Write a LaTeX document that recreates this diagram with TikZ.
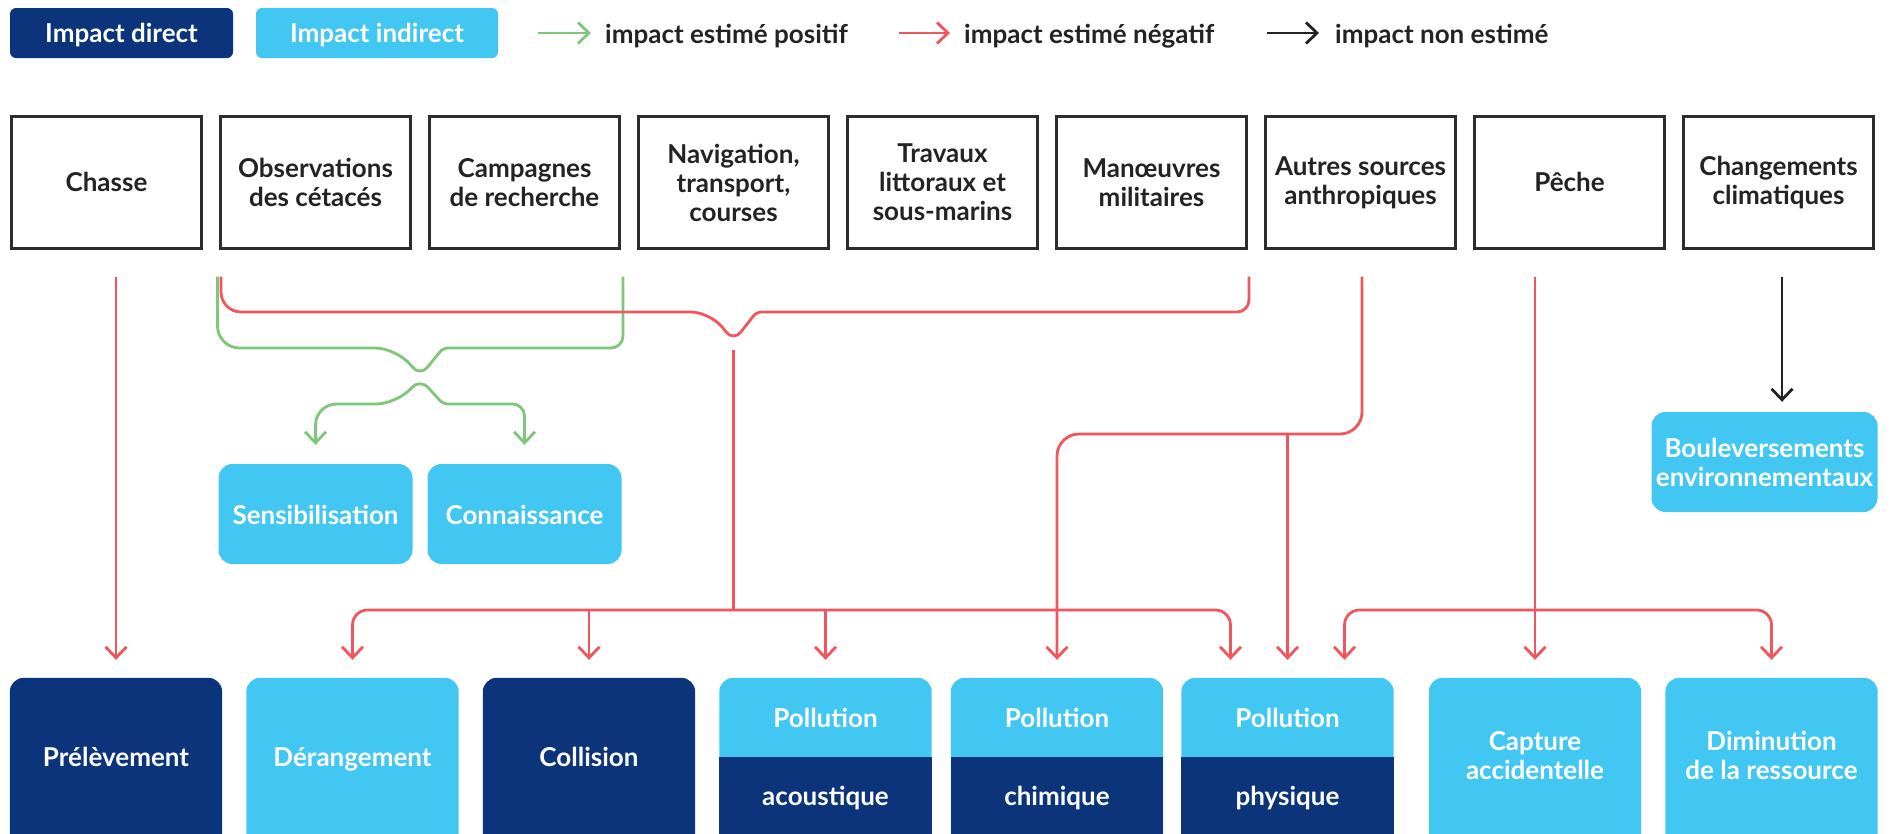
\documentclass[tikz,border=0pt]{standalone}
\usepackage{fontspec}
\setmainfont{Lato}
\usetikzlibrary{arrows.meta,backgrounds,calc}

\definecolor{navy}{RGB}{11,52,122}
\definecolor{skyb}{RGB}{66,199,243}
\definecolor{negred}{RGB}{240,86,92}
\definecolor{posgreen}{RGB}{125,198,122}
\definecolor{framegray}{RGB}{45,45,45}
\definecolor{inkgray}{RGB}{35,35,35}

\begin{document}
\begin{tikzpicture}[x=1pt,y=-1pt,
  lbl/.style={font=\bfseries\fontsize{26}{29}\selectfont},
  srcbox/.style={draw=framegray, line width=3pt, fill=white, minimum width=190pt,
    minimum height=132pt, align=center, text=inkgray, lbl, inner sep=0pt},
  fxbox/.style={minimum width=212pt, align=center, text=white, lbl, inner sep=0pt},
  midbox/.style={rounded corners=14pt, fill=skyb, text=white, lbl, align=center,
    inner sep=0pt, minimum height=100pt},
  legbox/.style={rounded corners=6pt, text=white, lbl, minimum height=50pt, inner sep=0pt,
    text height=22pt, text depth=2.5pt},
  legtxt/.style={text=inkgray, lbl, inner sep=0pt, anchor=west, text height=22pt, text depth=2pt},
  srcline/.style={text height=20.5pt, text depth=2pt},
  fxline/.style={text height=24pt, text depth=2pt},
  topline/.style={text height=20pt, text depth=0pt},
  lowline/.style={text height=22pt, text depth=2pt},
  barb/.tip={Straight Barb[length=11pt,width=21pt]},
  tipV/.style={-barb},
  tipboth/.style={barb-barb},
  link/.style={line width=2.8pt, rounded corners=20pt},
  negline/.style={link, draw=negred},
  posline/.style={link, draw=posgreen},
  nulline/.style={link, draw=inkgray},
]
\useasboundingbox (0,0) rectangle (1892,833);

% ---------- legend ----------
\node[legbox, fill=navy, minimum width=223pt] (kdir) at (121.5,33) {Impact direct};
\node[legbox, fill=skyb, minimum width=242pt] (kind) at (377,33) {Impact indirect};
\node[legtxt] (kpos) at (605,33) {impact estimé positif};
\node[legtxt] (kneg) at (964,33) {impact estimé négatif};
\node[legtxt] (knul) at (1335,33) {impact non estimé};
\draw[posline, tipV] ([xshift=-67pt]kpos.west) -- ([xshift=-14pt]kpos.west);
\draw[negline, tipV] ([xshift=-65pt]kneg.west) -- ([xshift=-14pt]kneg.west);
\draw[nulline, tipV] ([xshift=-68pt]knul.west) -- ([xshift=-16pt]knul.west);

% ---------- sources ----------
\node[srcbox, srcline] (chasse) at (106.5,182.5) {Chasse};
\node[srcbox] (obs)    at (315.5,182.5) {Observations\\des cétacés};
\node[srcbox] (camp)   at (524.5,182.5) {Campagnes\\de recherche};
\node[srcbox] (nav)    at (733.5,182.5) {Navigation,\\transport,\\courses};
\node[srcbox] (trav)   at (942.5,182.5) {Travaux\\littoraux et\\sous-marins};
\node[srcbox] (man)    at (1151.5,182.5) {Manœuvres\\militaires};
\node[srcbox] (autres) at (1360.5,182.5) {Autres sources\\anthropiques};
\node[srcbox, srcline] (peche)  at (1569.5,182.5) {Pêche};
\node[srcbox] (clim)   at (1778.5,182.5) {Changements\\climatiques};

% ---------- indirect outcomes ----------
\node[midbox, topline, minimum width=194pt] (sens) at (315.5,514) {Sensibilisation};
\node[midbox, topline, minimum width=194pt] (conn) at (524.5,514) {Connaissance};
\node[midbox, minimum width=226pt] (boul) at (1764.5,462) {Bouleversements\\environnementaux};

% ---------- impacts ----------
\node[fxbox, fxline, minimum height=155pt] (prel) at (116,755.5) {Prélèvement};
\node[fxbox, fxline, minimum height=155pt] (der)  at (352.5,755.5) {Dérangement};
\node[fxbox, fxline, minimum height=155pt] (coll) at (589,755.5) {Collision};
\node[fxbox, topline, minimum height=79pt] (ac-t) at (825.5,717.5) {Pollution};
\node[fxbox, lowline, minimum height=76pt] (ac-b) at (825.5,795) {acoustique};
\node[fxbox, topline, minimum height=79pt] (ch-t) at (1057,717.5) {Pollution};
\node[fxbox, lowline, minimum height=76pt] (ch-b) at (1057,795) {chimique};
\node[fxbox, topline, minimum height=79pt] (ph-t) at (1287.5,717.5) {Pollution};
\node[fxbox, lowline, minimum height=76pt] (ph-b) at (1287.5,795) {physique};
\node[fxbox, minimum height=155pt] (capt) at (1535,755.5) {Capture\\accidentelle};
\node[fxbox, minimum height=155pt] (dim)  at (1771.5,755.5) {Diminution\\de la ressource};

\begin{scope}[on background layer]
  \fill[white] (0,0) rectangle (1892,833);
  \clip (0,0) rectangle (1892,833);
  \foreach \n/\c in {prel/navy,der/skyb,coll/navy,capt/skyb,dim/skyb}
    \fill[\c, rounded corners=14pt] (\n.north west) rectangle ([yshift=-40pt]\n.south east);
  \foreach \n in {ac,ch,ph}{
    \fill[skyb, rounded corners=14pt] (\n-t.north west) rectangle ([yshift=-40pt]\n-b.south east);
    \fill[navy] (\n-b.north west) rectangle ([yshift=-40pt]\n-b.south east);
  }
\end{scope}

% ---------- helper rows and points ----------
\coordinate (rr)   at (0,312);
\coordinate (gr1)  at (0,348);
\coordinate (gr2)  at (0,404);
\coordinate (bus1) at (0,610);
\coordinate (bus2) at (0,434);
\coordinate (gx)   at ($(obs.south)!.5!(camp.south)$);
\coordinate (gtop) at ($(gx)+(0,126.5)$);
\coordinate (gbot) at ($(gx)+(0,128.5)$);
\coordinate (gL)   at ($(obs.south west)+(-1.5,26.5)$);
\coordinate (gR)   at ($(camp.south east)+(2,26.5)$);
\coordinate (redL) at ($(obs.south west)+(2,26.5)$);
\coordinate (redR) at ($(man.south east)+(1,26.5)$);
\coordinate (redV) at ($(nav.south)+(0,91.5)$);
\coordinate (aout) at ($(autres.south)+(1.5,26.5)$);
\coordinate (cout) at ($(clim.south)+(3.5,26.5)$);
\coordinate (physL) at ($(ph-t.north)+(-57,0)$);
\coordinate (physR) at ($(ph-t.north)+(57,0)$);

% ---------- Chasse ----------
\draw[negline, tipV, shorten >=18pt] ($(chasse.south -| prel.north)+(0,26.5)$) -- (prel.north);

% ---------- Observations + Campagnes (positive) ----------
\draw[posline] (gL) [rounded corners=22pt] -- (gL |- gr1)
  -- ($(gtop |- gr1)+(-23,0)$) [rounded corners=12pt] -- (gtop)
  [rounded corners=5pt] -- ($(gtop |- gr1)+(23,0)$)
  [rounded corners=12pt] -- (gR |- gr1) [rounded corners=22pt] -- (gR);
\draw[posline, tipboth, shorten <=19pt, shorten >=19pt] (sens.north)
  [rounded corners=21pt] -- (sens.north |- gr2)
  -- ($(gbot |- gr2)+(-23,0)$) [rounded corners=12pt] -- (gbot)
  [rounded corners=5pt] -- ($(gbot |- gr2)+(23,0)$)
  [rounded corners=12pt] -- (conn.north |- gr2) [rounded corners=21pt] -- (conn.north);

% ---------- Observations ... Manoeuvres (negative) ----------
\draw[negline] (redL) [rounded corners=20pt] -- (redL |- rr)
  -- ($(redV |- rr)+(-23,0)$) [rounded corners=12pt] -- (redV)
  [rounded corners=5pt] -- ($(redV |- rr)+(23,0)$)
  [rounded corners=12pt] -- (redR |- rr) [rounded corners=20pt] -- (redR);
\draw[negline] ($(nav.south)+(0,99.5)$) -- (nav.south |- bus1);
\draw[negline, tipboth, shorten <=18pt, shorten >=18pt] (der.north)
  [rounded corners=15pt] -- (der.north |- bus1) -- (physL |- bus1) -- (physL);
\draw[negline, tipV, shorten >=18pt] (coll.north |- bus1) -- (coll.north);
\draw[negline, tipV, shorten >=18pt] (ac-t.north |- bus1) -- (ac-t.north);

% ---------- Autres sources ----------
\draw[negline, tipV, shorten >=18pt] (aout) [rounded corners=22pt] -- (aout |- bus2)
  -- (ch-t.north |- bus2) -- (ch-t.north);
\draw[negline, tipV, shorten >=18pt] (ph-t.north |- bus2) -- (ph-t.north);

% ---------- Peche ----------
\draw[negline, tipV, shorten >=18pt] ($(peche.south -| capt.north)+(0,26.5)$) -- (capt.north);
\draw[negline, tipboth, shorten <=18pt, shorten >=18pt] (physR)
  [rounded corners=15pt] -- (physR |- bus1) -- (dim.north |- bus1) -- (dim.north);

% ---------- Changements climatiques ----------
\draw[nulline, tipV, shorten >=10pt] (cout) -- (cout |- boul.north);
\end{tikzpicture}
\end{document}
